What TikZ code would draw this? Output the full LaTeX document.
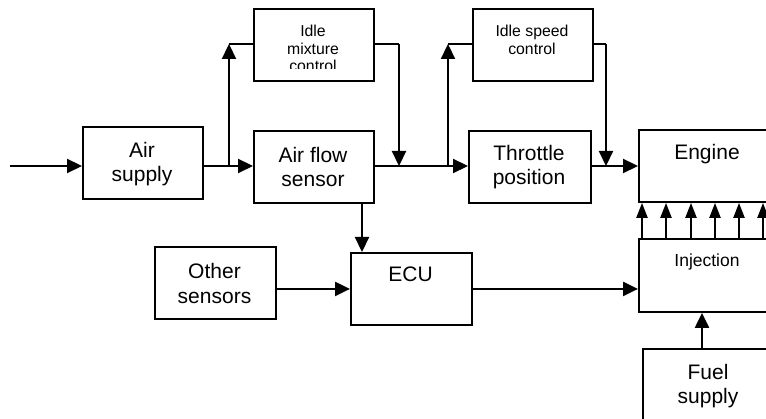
\documentclass[tikz,border=0pt]{standalone}
\usepackage{fontspec}
\setmainfont{Liberation Sans}
\usetikzlibrary{arrows.meta}
\tikzset{
  box/.style={draw, line width=1.9pt, inner sep=0pt, anchor=north west},
  conn/.style={line width=2.2pt},
  arr/.style={conn, -{Triangle[length=15pt,width=14pt]}},
  big/.style={align=center, inner sep=0pt, font=\fontsize{21}{24.5}\selectfont},
  small/.style={align=center, inner sep=0pt, font=\fontsize{15.8}{18}\selectfont},
}
\begin{document}
\begin{tikzpicture}[x=1pt,y=-1pt]
\useasboundingbox (0,0) rectangle (766,419);
\clip (0,0) rectangle (766,419);
% boxes
\node[box, minimum width=120pt, minimum height=72pt] (as) at (82,126) {};
\node[box, minimum width=120pt, minimum height=72pt] (imc) at (253,8) {};
\node[box, minimum width=120pt, minimum height=72pt] (afs) at (253,130) {};
\node[box, minimum width=120pt, minimum height=72pt] (isc) at (472,8) {};
\node[box, minimum width=122pt, minimum height=72pt] (tp) at (468,130) {};
\node[box, minimum width=140pt, minimum height=72pt] (eng) at (638,129) {};
\node[box, minimum width=121pt, minimum height=72pt] (os) at (154,246) {};
\node[box, minimum width=121pt, minimum height=72pt] (ecu) at (350,252) {};
\node[box, minimum width=140pt, minimum height=73pt] (inj) at (638,238) {};
\node[box, minimum width=132pt, minimum height=80pt] (fs) at (642,348) {};
% texts
\node[big] at (142,164) {Air\\supply};
\node[big] at (313,167) {Air flow\\sensor};
\node[big] at (529,167) {Throttle\\position};
\node[big] at (707,154) {Engine};
\node[big] at (214.5,283.5) {Other\\sensors};
\node[big] at (410.5,274) {ECU};
\node[big] at (708,386) {Fuel\\supply};
\node[small, font=\fontsize{17.5}{20}\selectfont] at (707,262) {Injection};
\node[small] at (532,40) {Idle speed\\control};
\begin{scope}
  \clip (253,8) rectangle (373,68.5);
  \node[small, font=\fontsize{15.8}{17.5}\selectfont] at (313,48.5) {Idle\\mixture\\control};
\end{scope}
% junction coordinates
\coordinate (in) at (10,166);
\coordinate (j1) at (229,166);
\coordinate (c1) at (229,44);
\coordinate (c2) at (399,44);
\coordinate (j2) at (399,166);
\coordinate (j3) at (448,166);
\coordinate (c3) at (448,44);
\coordinate (c4) at (606,44);
\coordinate (j4) at (606,166);
\coordinate (k) at (362,0);
\coordinate (f) at (702,0);
% connectors
\draw[arr] (in) -- (in -| as.west);
\draw[conn] (as.east |- j1) -- (j1);
\draw[arr] (j1) -- (j1 -| afs.west);
\draw[arr] (j1) -- (c1);
\draw[conn] (c1) -- (c1 -| imc.west);
\draw[conn] (imc.east |- c2) -- (c2);
\draw[arr] (c2) -- (j2);
\draw[arr] (afs.east |- j2) -- (tp.west |- j2);
\draw[arr] (j3) -- (c3);
\draw[conn] (c3) -- (c3 -| isc.west);
\draw[conn] (isc.east |- c4) -- (c4);
\draw[arr] (c4) -- (j4);
\draw[arr] (tp.east |- j4) -- (eng.west |- j4);
\draw[arr] (afs.south -| k) -- (ecu.north -| k);
\draw[arr] (os.east |- ecu.west) -- (ecu.west);
\draw[arr] (ecu.east) -- (ecu.east -| inj.west);
\foreach \x in {642,666,691,715,739,763} {
  \coordinate (u) at (\x,0);
  \draw[arr, -{Triangle[length=15pt,width=11pt]}] (inj.north -| u) -- (eng.south -| u);
}
\draw[arr] (fs.north -| f) -- (inj.south -| f);
\end{tikzpicture}
\end{document}
